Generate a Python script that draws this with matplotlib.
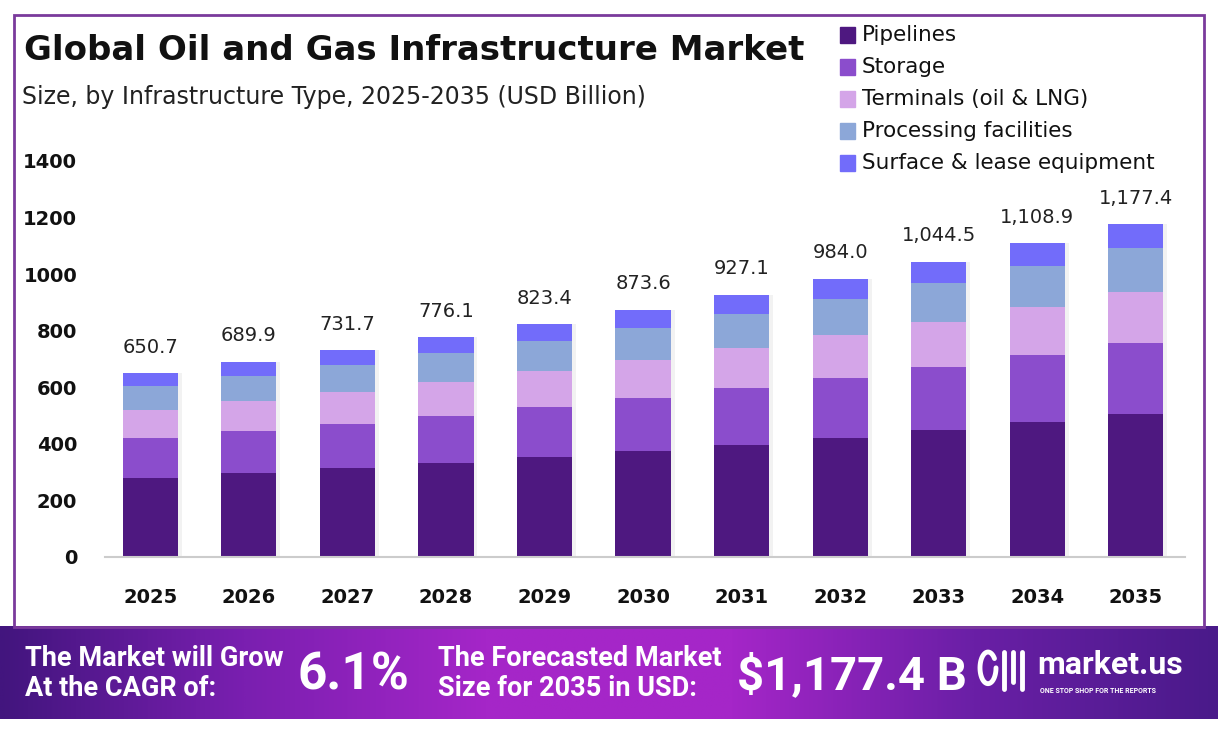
import numpy as np
import matplotlib
matplotlib.use("Agg")
import matplotlib.pyplot as plt
from matplotlib.colors import LinearSegmentedColormap
from matplotlib.patches import Rectangle

plt.rcParams['font.family'] = ['DejaVu Sans']

years = ['2025', '2026', '2027', '2028', '2029', '2030', '2031', '2032', '2033', '2034', '2035']
totals = [650.7, 689.9, 731.7, 776.1, 823.4, 873.6, 927.1, 984.0, 1044.5, 1108.9, 1177.4]
segments = ['Pipelines', 'Storage', 'Terminals (oil & LNG)', 'Processing facilities', 'Surface & lease equipment']
pipelines = [279.2, 296.0, 313.9, 332.9, 353.2, 374.8, 397.7, 422.1, 448.1, 475.7, 505.1]
storage = [139.9, 148.3, 157.3, 166.9, 177.0, 187.8, 199.3, 211.6, 224.6, 238.4, 253.1]
terminals = [99.6, 105.6, 112.0, 118.7, 126.0, 133.7, 141.8, 150.6, 159.8, 169.7, 180.1]
processing = [85.2, 90.4, 95.9, 101.7, 107.9, 114.4, 121.5, 128.9, 136.8, 145.3, 154.2]
surface = [46.8, 49.6, 52.6, 55.9, 59.3, 62.9, 66.8, 70.8, 75.2, 79.8, 84.9]
colors = ['#4e1880', '#8b4dcc', '#d4a5e8', '#8ca7d8', '#726cfa']

W, H = 1218, 735
fig = plt.figure(figsize=(W / 100, H / 100), dpi=100)

def fx(px):
    return px / W

def fy(py):
    return 1 - py / H

# purple frame
fig.patches.append(Rectangle((fx(14), fy(627)), fx(1204) - fx(14), fy(15) - fy(627),
                             transform=fig.transFigure, fill=False, edgecolor='#7a3a9c', linewidth=2))

ax = fig.add_axes([fx(105), fy(557), fx(1185) - fx(105), fy(161) - fy(557)])
x = np.arange(len(years))
bottom = np.zeros(len(years))
data = [pipelines, storage, terminals, processing, surface]
for vals, col, name in zip(data, colors, segments):
    # soft shadow
    ax.bar(x + 0.04, vals, 0.56, bottom=bottom, color='#000000', alpha=0.05, zorder=1)
    ax.bar(x, vals, 0.56, bottom=bottom, color=col, label=name, zorder=2)
    bottom += np.array(vals)

for i, t in enumerate(totals):
    ax.text(x[i], bottom[i] + 58, f'{t:,.1f}', ha='center', va='bottom', fontsize=14, color='#222222')

ax.set_xlim(-0.46, 10.5)
ax.set_ylim(0, 1400)
ax.set_yticks(range(0, 1401, 200))
ax.set_xticks(x)
ax.set_xticklabels(years)
for lab in ax.get_xticklabels() + ax.get_yticklabels():
    lab.set_fontweight('bold')
    lab.set_fontsize(14)
    lab.set_color('#111111')
ax.tick_params(axis='both', length=0)
ax.tick_params(axis='x', pad=22)
ax.tick_params(axis='y', pad=20)
for s in ['top', 'right', 'left']:
    ax.spines[s].set_visible(False)
ax.spines['bottom'].set_color('#cccccc')
ax.spines['bottom'].set_linewidth(1.5)

# titles
fig.text(fx(24), fy(50), 'Global Oil and Gas Infrastructure Market', fontsize=24.5, fontweight='bold',
         va='center', ha='left', color='#111111')
fig.text(fx(22), fy(97), 'Size, by Infrastructure Type, 2025-2035 (USD Billion)', fontsize=17,
         va='center', ha='left', color='#222222')

# legend
leg_y = [35, 67, 99, 131, 163]
for name, col, yy in zip(segments, colors, leg_y):
    fig.patches.append(Rectangle((fx(840), fy(yy + 8)), fx(15), fy(yy - 8) - fy(yy + 8),
                                 transform=fig.transFigure, color=col))
    fig.text(fx(862), fy(yy), name, fontsize=15.5, va='center', ha='left', color='#111111')

# bottom banner
bax = fig.add_axes([0, fy(719), 1, fy(626) - fy(719)])
cmap = LinearSegmentedColormap.from_list('ban', ['#42157e', '#7a1fb0', '#a526c8', '#a526c8', '#6a1fa6', '#4a1a8a'])
grad = np.linspace(0, 1, 512).reshape(1, -1)
bax.imshow(grad, aspect='auto', cmap=cmap, extent=[0, W, 0, 1])
bax.set_xlim(0, W)
bax.set_ylim(0, 1)
bax.axis('off')

bf = ['Roboto', 'DejaVu Sans']
bax.text(25, 0.65, 'The Market will Grow', fontsize=19.5, fontweight='bold', color='white', va='center', family=bf)
bax.text(25, 0.33, 'At the CAGR of:', fontsize=19.5, fontweight='bold', color='white', va='center', family=bf)
bax.text(298, 0.47, '6.1%', fontsize=37, fontweight='bold', color='white', va='center', family=bf)
bax.text(438, 0.65, 'The Forecasted Market', fontsize=19.5, fontweight='bold', color='white', va='center', family=bf)
bax.text(438, 0.33, 'Size for 2035 in USD:', fontsize=19.5, fontweight='bold', color='white', va='center', family=bf)
bax.text(737, 0.47, '$1,177.4 B', fontsize=34, fontweight='bold', color='white', va='center', family=bf)

# logo mark
th = np.linspace(0.2 * np.pi, 2.0 * np.pi, 60)
bax.plot(988 + 8 * np.cos(th), 0.55 + 0.17 * np.sin(th), color='white', lw=3.5, solid_capstyle='round')
bax.plot([1004, 1004], [0.32, 0.72], color='white', lw=3.5, solid_capstyle='round')
bax.plot([1013, 1013], [0.40, 0.72], color='white', lw=3.5, solid_capstyle='round')
bax.plot([1022, 1022], [0.32, 0.72], color='white', lw=3.5, solid_capstyle='round')
bax.text(1037, 0.58, 'market.us', fontsize=23, fontweight='bold', color='white', va='center', family=bf)
bax.text(1040, 0.3, 'ONE STOP SHOP FOR THE REPORTS', fontsize=5, fontweight='bold', color='white',
         va='center', family=bf)

fig.savefig('out.png', dpi=100, facecolor='white')
